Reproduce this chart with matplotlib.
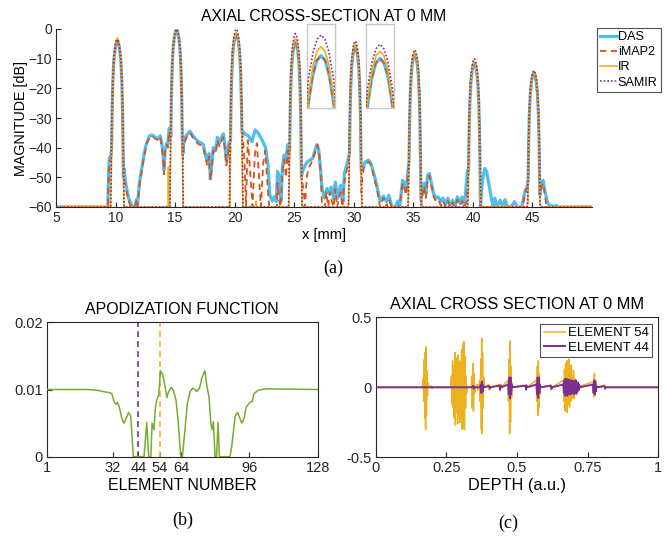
import matplotlib
matplotlib.use("Agg")
import matplotlib.pyplot as plt

plt.rcParams['font.family'] = ['Liberation Sans', 'DejaVu Sans']

# ---------------- (a) axial cross-section data ----------------
das_x = [5, 9.35, 9.42, 9.48, 9.6, 9.67, 9.71, 9.77, 9.85, 9.95, 10.05, 10.15, 10.25, 10.35, 10.45, 10.53, 10.59, 10.63,
         10.66, 10.7, 10.85, 11.1, 11.4, 11.6, 11.75, 11.85, 12.0, 12.2, 12.4, 12.6, 12.85, 13.1, 13.35, 13.6, 13.75,
         13.9, 14.0, 14.07, 14.15, 14.3, 14.4, 14.5, 14.6, 14.64, 14.68, 14.74, 14.82, 14.92, 15.02, 15.12, 15.22,
         15.32, 15.42, 15.5, 15.56, 15.6, 15.65, 15.7, 15.9, 16.25, 16.55, 16.95, 17.35, 17.55, 17.7, 17.85, 17.96,
         18.1, 18.2, 18.4, 18.55, 18.72, 18.85, 19.05, 19.2, 19.3, 19.45, 19.55, 19.65, 19.69, 19.75, 19.83, 19.93,
         20.03, 20.13, 20.23, 20.33, 20.43, 20.51, 20.57, 20.61, 20.7, 20.9, 21.15, 21.45, 21.72, 22.0, 22.3, 22.6,
         22.8, 22.95, 23.15, 23.35, 23.5, 23.6, 23.75, 23.9, 24.0, 24.15, 24.3, 24.45, 24.55, 24.62, 24.66, 24.72,
         24.8, 24.9, 25.0, 25.1, 25.2, 25.3, 25.4, 25.48, 25.54, 25.58, 25.6, 25.7, 25.85, 26.05, 26.3, 26.55, 26.75,
         26.9, 27.05, 27.2, 27.35, 27.55, 27.75, 27.95, 28.1, 28.3, 28.45, 28.65, 28.9, 29.1, 29.2, 29.45, 29.6,
         29.64, 29.68, 29.74, 29.82, 29.92, 30.02, 30.12, 30.22, 30.32, 30.42, 30.5, 30.56, 30.6, 30.63, 30.8, 31.0,
         31.25, 31.45, 31.7, 31.95, 32.2, 32.5, 32.75, 32.95, 33.2, 33.5, 33.7, 33.85, 34.1, 34.2, 34.4, 34.55,
         34.64, 34.68, 34.74, 34.82, 34.92, 35.02, 35.12, 35.22, 35.32, 35.42, 35.5, 35.56, 35.6, 35.64, 35.8, 35.9,
         36.05, 36.2, 36.35, 36.5, 36.7, 36.9, 37.1, 37.3, 37.5, 37.7, 37.9, 38.1, 38.3, 38.5, 38.7, 38.9, 39.1,
         39.3, 39.4, 39.55, 39.64, 39.68, 39.74, 39.82, 39.92, 40.02, 40.12, 40.22, 40.32, 40.42, 40.5, 40.56, 40.6,
         40.63, 40.8, 41.0, 41.15, 41.35, 41.55, 41.7, 41.85, 42.0, 42.3, 42.5, 42.7, 42.9, 43.2, 43.5, 43.7, 44.1,
         44.27, 44.4, 44.55, 44.64, 44.68, 44.74, 44.82, 44.92, 45.02, 45.12, 45.22, 45.32, 45.42, 45.5, 45.56, 45.6,
         45.63, 45.75, 45.9, 46.0, 46.25, 46.45, 46.65, 46.85, 47.0, 47.1, 50]
das_y = [-60, -60, -48, -43.5, -43, -40, -28, -18, -11, -7, -4.7, -4, -4.7, -7, -11, -18, -28, -40,
         -50, -47, -52, -57, -60, -60, -57.5, -59, -52, -47, -42, -38.5, -36, -35.8, -36.5, -37, -36,
         -39, -43, -47.5, -41, -38.5, -39, -33.5, -34.5, -36.3, -24.3, -14.3, -7.3, -3.3, -1.0, -0.3, -1.0,
         -3.3, -7.3, -14.3, -24.3, -36.3, -42, -39, -36, -34.5, -36.3, -38, -38.8, -42.5, -44.5, -42, -50.5,
         -45, -40, -41, -36.5, -38.5, -37, -35.3, -40, -44.5, -40, -38, -37.8, -25.8, -15.8, -8.8, -4.8,
         -2.5, -1.8, -2.5, -4.8, -8.8, -15.8, -25.8, -34.6, -34.6, -35.5, -36, -38, -34, -35.2, -37.4, -40,
         -46, -56, -58, -56.5, -58.2, -48, -50, -58, -47, -42.5, -44.7, -39, -42, -40.5, -28.5, -18.5,
         -11.5, -7.5, -5.2, -4.5, -5.2, -7.5, -11.5, -18.5, -28.5, -40.5, -50, -48, -46.5, -45, -44.2, -43.6, -40.8,
         -39, -40.5, -47, -54, -57, -53.8, -55.5, -53.3, -57, -51.6, -57, -52.7, -58.2, -48.8, -45.3, -42.5,
         -42, -30, -20, -13, -9, -6.7, -6, -6.7, -9, -13, -20, -30, -42, -48, -46.4, -44.7,
         -44.2, -45.3, -49, -53, -58, -56.3, -58.2, -56, -60, -60, -58, -60, -51, -52, -53.8, -48,
         -44.5, -32.5, -22.5, -15.5, -11.5, -9.2, -8.5, -9.2, -11.5, -15.5, -22.5, -32.5, -44.5, -57.5, -54, -52,
         -55.5, -49.3, -48.7, -51.6, -55.5, -57, -56.6, -58.2, -57, -59.3, -57, -60, -57.7, -60, -56.6, -58.5, -56.6,
         -60, -54.4, -47.6, -47.5, -35.5, -25.5, -18.5, -14.5, -12.2, -11.5, -12.2, -14.5, -18.5, -25.5, -35.5, -47.5,
         -60, -51, -47, -48, -52.6, -57, -60, -57, -60, -57.7, -60, -57.5, -60, -60, -58.2, -60, -60,
         -56.6, -54.4, -53.3, -50.8, -38.8, -28.8, -21.8, -17.8, -15.5, -14.8, -15.5, -17.8, -21.8, -28.8, -38.8, -50.8,
         -56, -52, -51, -53.8, -58.2, -60, -59.5, -60, -59.5, -60, -60]

imap_x = [5, 9.35, 9.42, 9.5, 9.6, 9.67, 9.71, 9.77, 9.85, 9.95, 10.05, 10.15, 10.25, 10.35, 10.45, 10.53, 10.59, 10.63,
          10.67, 10.85, 11.1, 11.3, 11.65, 11.75, 11.85, 12.0, 12.2, 12.4, 12.6, 12.85, 13.1, 13.35, 13.6, 13.75,
          13.9, 14.0, 14.07, 14.15, 14.3, 14.4, 14.5, 14.6, 14.64, 14.68, 14.74, 14.82, 14.92, 15.02, 15.12, 15.22,
          15.32, 15.42, 15.5, 15.56, 15.6, 15.65, 15.72, 15.9, 16.25, 16.55, 16.95, 17.35, 17.55, 17.7, 17.85, 17.96,
          18.1, 18.2, 18.4, 18.55, 18.72, 18.85, 19.05, 19.2, 19.3, 19.45, 19.55, 19.6, 19.65, 19.69, 19.75, 19.83,
          19.93, 20.03, 20.13, 20.23, 20.33, 20.43, 20.51, 20.57, 20.61, 20.65, 20.8, 20.95, 21.1, 21.3, 21.5, 21.7,
          21.86, 22.05, 22.2, 22.4, 22.56, 22.75, 22.9, 23.3, 23.55, 23.6, 23.75, 23.85, 24.0, 24.15, 24.3, 24.45,
          24.55, 24.62, 24.66, 24.72, 24.8, 24.9, 25.0, 25.1, 25.2, 25.3, 25.4, 25.48, 25.54, 25.58, 25.6, 25.78,
          25.9, 26.05, 26.2, 26.45, 26.65, 26.8, 26.96, 27.1, 27.25, 27.35, 27.55, 27.7, 27.85, 28.0, 28.15, 28.3,
          28.45, 28.6, 28.9, 29.05, 29.2, 29.4, 29.6, 29.64, 29.68, 29.74, 29.82, 29.92, 30.02, 30.12, 30.22, 30.32,
          30.42, 30.5, 30.56, 30.6, 30.63, 30.7, 30.85, 31.0, 31.25, 31.45, 31.7, 31.95, 32.2, 32.5, 32.75, 32.95,
          33.2, 33.85, 34.1, 34.2, 34.4, 34.55, 34.64, 34.68, 34.74, 34.82, 34.92, 35.02, 35.12, 35.22, 35.32, 35.42,
          35.5, 35.56, 35.6, 35.64, 35.8, 35.9, 36.05, 36.2, 36.35, 36.5, 36.7, 36.9, 37.1, 37.3, 37.5, 37.7, 37.9,
          38.1, 38.3, 38.5, 38.7, 38.9, 39.1, 39.3, 39.45, 39.58, 39.64, 39.68, 39.74, 39.82, 39.92, 40.02, 40.12,
          40.22, 40.32, 40.42, 40.5, 40.56, 40.6, 40.63, 44.2, 44.3, 44.45, 44.55, 44.64, 44.68, 44.74, 44.82, 44.92,
          45.02, 45.12, 45.22, 45.32, 45.42, 45.5, 45.56, 45.6, 45.63, 45.75, 45.9, 46.0, 46.2, 50]
imap_y = [-60, -60, -50, -44.5, -44, -41, -28, -18, -11, -7, -4.8, -4.1, -4.8, -7, -11, -18, -28, -40,
          -50, -53, -58, -60, -60, -58, -60, -53, -48, -43, -39, -36.5, -36.3, -37, -37.5, -36.5,
          -40, -44, -49, -42, -39, -40, -34.5, -35.5, -36.3, -24.3, -14.3, -7.3, -3.3, -1.0, -0.3, -1.0,
          -3.3, -7.3, -14.3, -24.3, -36.3, -44, -40, -37, -35, -37, -38.8, -39.5, -43.5, -46, -43, -51,
          -46, -41, -42, -37.5, -39.5, -38, -36.5, -41, -46, -42, -39, -55, -37.8, -25.8, -15.8, -8.8,
          -4.8, -2.5, -1.8, -2.5, -4.8, -8.8, -15.8, -25.8, -34.6, -35, -42, -60, -37.5, -48, -60, -42,
          -38.5, -50, -60, -45, -41, -52, -60, -60, -60, -52, -58, -60, -49, -44, -50, -41,
          -46, -40.5, -28.5, -18.5, -11.5, -7.5, -5.2, -4.5, -5.2, -7.5, -11.5, -18.5, -28.5, -40.5, -50, -54,
          -60, -50, -47, -45, -43, -41, -39, -42, -52, -60, -60, -55, -60, -55, -58, -60,
          -54, -60, -55, -60, -52, -47.8, -44, -42, -30, -20, -13, -9, -6.7, -6, -6.7, -9,
          -13, -20, -30, -42, -55, -50, -47, -45.5, -44.8, -46, -50, -54, -60, -57, -60, -57.5,
          -60, -60, -52, -53, -56, -49, -45, -32.5, -22.5, -15.5, -11.5, -9.2, -8.5, -9.2, -11.5, -15.5,
          -22.5, -32.5, -44.5, -60, -55, -53, -57, -50, -49.5, -52.5, -56.5, -58, -57.5, -59.5, -58, -60, -58,
          -60, -58.5, -60, -57.5, -59.5, -58, -60, -58, -52, -48, -35.5, -25.5, -18.5, -14.5, -12.2, -11.5,
          -12.2, -14.5, -18.5, -25.5, -35.5, -47.5, -60, -60, -57, -54, -55, -51, -38.8, -28.8, -21.8, -17.8,
          -15.5, -14.8, -15.5, -17.8, -21.8, -28.8, -38.8, -50.8, -57, -53, -52, -55, -60, -60]

ir_x = [5, 9.6, 9.65, 9.7, 9.77, 9.85, 9.97, 10.06, 10.15, 10.24, 10.33, 10.45, 10.53, 10.6, 10.65, 10.7,
        14.42, 14.44, 14.46,
        14.57, 14.62, 14.67, 14.74, 14.82, 14.94, 15.03, 15.12, 15.21, 15.3, 15.42, 15.5, 15.57, 15.62, 15.67,
        19.58, 19.6, 19.62,
        19.63, 19.68, 19.75, 19.83, 19.95, 20.04, 20.13, 20.22, 20.31, 20.43, 20.51, 20.58, 20.63, 20.68,
        21.78, 21.8, 21.82,
        24.55, 24.6, 24.65, 24.72, 24.8, 24.92, 25.01, 25.1, 25.19, 25.28, 25.4, 25.48, 25.55, 25.6, 25.65,
        29.57, 29.62, 29.67, 29.74, 29.82, 29.94, 30.03, 30.12, 30.21, 30.3, 30.42, 30.5, 30.57, 30.62, 30.67,
        34.57, 34.62, 34.67, 34.74, 34.82, 34.94, 35.03, 35.12, 35.21, 35.3, 35.42, 35.5, 35.57, 35.62, 35.67,
        39.57, 39.62, 39.67, 39.74, 39.82, 39.94, 40.03, 40.12, 40.21, 40.3, 40.42, 40.5, 40.57, 40.62, 40.67,
        44.57, 44.62, 44.67, 44.74, 44.82, 44.94, 45.03, 45.12, 45.21, 45.3, 45.42, 45.5, 45.57, 45.62, 45.67,
        50]
ir_y = [-60, -60, -47, -30, -17, -10, -5.5, -3.6, -3, -3.6, -5.5, -10, -17, -30, -47, -60,
        -60, -46.5, -60,
        -60, -44, -27, -14, -7, -2.5, -0.6, 0, -0.6, -2.5, -7, -14, -27, -44, -60,
        -60, -50, -60,
        -45.2, -28.2, -15.2, -8.2, -3.7, -1.8, -1.2, -1.8, -3.7, -8.2, -15.2, -28.2, -45.2, -60,
        -60, -58, -60,
        -60, -47.2, -30.2, -17.2, -10.2, -5.7, -3.8, -3.2, -3.8, -5.7, -10.2, -17.2, -30.2, -47.2, -60,
        -60, -49, -32, -19, -12, -7.5, -5.6, -5, -5.6, -7.5, -12, -19, -32, -49, -60,
        -60, -52, -35, -22, -15, -10.5, -8.6, -8, -8.6, -10.5, -15, -22, -35, -52, -60,
        -60, -55, -38, -25, -18, -13.5, -11.6, -11, -11.6, -13.5, -18, -25, -38, -55, -60,
        -60, -58.5, -41.5, -28.5, -21.5, -17, -15.1, -14.5, -15.1, -17, -21.5, -28.5, -41.5, -58.5, -60,
        -60]

samir_x = [5, 9.58, 9.63, 9.69, 9.76, 9.85, 9.97, 10.06, 10.15, 10.24, 10.33, 10.45, 10.54, 10.61, 10.67, 10.72,
           14.55, 14.6, 14.66, 14.73, 14.82, 14.94, 15.03, 15.12, 15.21, 15.3, 15.42, 15.51, 15.58, 15.64, 15.69,
           19.56, 19.61, 19.67, 19.74, 19.83, 19.95, 20.04, 20.13, 20.22, 20.31, 20.43, 20.52, 20.59, 20.65, 20.7,
           24.53, 24.58, 24.64, 24.71, 24.8, 24.92, 25.01, 25.1, 25.19, 25.28, 25.4, 25.49, 25.56, 25.62, 25.67,
           29.55, 29.6, 29.66, 29.73, 29.82, 29.94, 30.03, 30.12, 30.21, 30.3, 30.42, 30.51, 30.58, 30.64, 30.69,
           34.55, 34.6, 34.66, 34.73, 34.82, 34.94, 35.03, 35.12, 35.21, 35.3, 35.42, 35.51, 35.58, 35.64, 35.69,
           39.55, 39.6, 39.66, 39.73, 39.82, 39.94, 40.03, 40.12, 40.21, 40.3, 40.42, 40.51, 40.58, 40.64, 40.69,
           44.55, 44.6, 44.66, 44.73, 44.82, 44.94, 45.03, 45.12, 45.21, 45.3, 45.42, 45.51, 45.58, 45.64, 45.69,
           50]
samir_y = [-60, -60, -47.5, -30.5, -17.5, -10, -5.8, -4.1, -3.5, -4.1, -5.8, -10, -17.5, -30.5, -47.5, -60,
           -60, -44, -27, -14, -6.5, -2.3, -0.6, 0, -0.6, -2.3, -6.5, -14, -27, -44, -60,
           -60, -44, -27, -14, -6.5, -2.3, -0.6, 0, -0.6, -2.3, -6.5, -14, -27, -44, -60,
           -60, -45.5, -28.5, -15.5, -8, -3.8, -2.1, -1.5, -2.1, -3.8, -8, -15.5, -28.5, -45.5, -60,
           -60, -48, -31, -18, -10.5, -6.3, -4.6, -4, -4.6, -6.3, -10.5, -18, -31, -48, -60,
           -60, -51, -34, -21, -13.5, -9.3, -7.6, -7, -7.6, -9.3, -13.5, -21, -34, -51, -60,
           -60, -54, -37, -24, -16.5, -12.3, -10.6, -10, -10.6, -12.3, -16.5, -24, -37, -54, -60,
           -60, -58, -41, -28, -20.5, -16.3, -14.6, -14, -14.6, -16.3, -20.5, -28, -41, -58, -60,
           -60]

# ---------------- (b) apodization data ----------------
apod_elem = [1, 20, 24.4, 30.7, 31.5, 32.6, 33.5, 34.1, 35.1, 36.2, 37.2, 38.2, 39.4, 40.4, 41.6, 44.4, 46.6,
             47.9, 48.8, 49.8, 50.4, 51.3, 51.9, 52.6, 53.5, 54.3, 55.4, 56.5, 57.3, 58.2, 59.3, 60.4, 61.6,
             62.7, 63.8, 64.6, 65.8, 66.9, 68.2, 69.4, 70.5, 71.3, 72.6, 73.8, 75.1, 76.0, 77.1, 77.9, 78.5,
             79.1, 79.9, 80.6, 81.3, 81.9, 86.9, 87.7, 89.3, 90.4, 91.6, 92.4, 93.5, 94.4, 95.5, 96.3, 97.3,
             98.2, 100.2, 104, 128]
apod_val = [0.01, 0.01, 0.0099, 0.0095, 0.0094, 0.0082, 0.0078, 0.0081, 0.0073, 0.0057, 0.005, 0.0057, 0.0066,
            0.006, 0, 0, 0, 0.0051, 0, 0, 0.005, 0.004, 0.0072, 0.0085, 0.0092, 0.0128, 0.0122, 0.0104, 0.0088,
            0.0097, 0.0103, 0.0099, 0.0084, 0.005, 0, 0, 0.004, 0.0079, 0.0097, 0.0102, 0.01, 0.0097, 0.0102,
            0.0118, 0.0128, 0.0107, 0.0088, 0.005, 0.004, 0.0052, 0, 0, 0.0051, 0, 0, 0.0015, 0.006, 0.0066,
            0.0057, 0.005, 0.0057, 0.0073, 0.0078, 0.0081, 0.0082, 0.0094, 0.0099, 0.0101, 0.01]
apod_ticks = [1, 32, 44, 54, 64, 96, 128]
marked_elems = [44, 54]

# ---------------- (c) RF traces ----------------
e54_depth = [0.0, 0.165, 0.168, 0.170, 0.172, 0.174, 0.175, 0.1765, 0.178, 0.1795, 0.181, 0.183, 0.185, 0.187,
             0.197, 0.199, 0.2, 0.265, 0.268, 0.270, 0.272, 0.274, 0.276, 0.278, 0.280, 0.282, 0.284, 0.286,
             0.288, 0.290, 0.292, 0.294, 0.296, 0.298, 0.300, 0.302, 0.304, 0.306, 0.308, 0.310, 0.312, 0.314,
             0.316, 0.318, 0.320, 0.322, 0.324, 0.338, 0.340, 0.342, 0.344, 0.346, 0.348, 0.350, 0.352, 0.360,
             0.362, 0.364, 0.368, 0.370, 0.372, 0.374, 0.375, 0.3765, 0.378, 0.380, 0.382, 0.384, 0.400, 0.402,
             0.404, 0.438, 0.440, 0.442, 0.444, 0.468, 0.470, 0.472, 0.474, 0.4755, 0.477, 0.479, 0.481, 0.483,
             0.485, 0.530, 0.532, 0.534, 0.536, 0.568, 0.570, 0.572, 0.574, 0.5755, 0.577, 0.579, 0.581, 0.583,
             0.620, 0.622, 0.624, 0.664, 0.666, 0.668, 0.670, 0.672, 0.674, 0.676, 0.678, 0.680, 0.682, 0.684,
             0.686, 0.688, 0.690, 0.692, 0.694, 0.696, 0.698, 0.700, 0.702, 0.704, 0.706, 0.708, 0.710, 0.712,
             0.714, 0.770, 0.772, 0.774, 0.776, 0.778, 0.780, 0.782, 0.810, 0.812, 0.814, 1.0]
e54_amp = [0, 0, 0.06, -0.1, 0.2, -0.22, 0.25, -0.30, 0.29, -0.2, 0.12, -0.06, 0.03, 0,
           0.01, -0.01, 0, 0, 0.08, -0.12, 0.19, -0.14, 0.15, -0.22, 0.25, -0.27, 0.2, -0.18,
           0.21, -0.26, 0.23, -0.2, 0.19, -0.25, 0.18, -0.22, 0.27, -0.3, 0.31, -0.29, 0.33, -0.3,
           0.22, -0.15, 0.08, -0.04, 0, 0, 0.08, -0.15, 0.17, -0.17, 0.1, -0.04, 0, 0.02,
           -0.02, 0, 0.05, -0.1, 0.2, -0.3, 0.35, -0.33, 0.25, -0.15, 0.07, 0, 0.02, -0.02,
           0, 0.02, -0.025, 0.02, 0, 0.05, -0.1, 0.2, -0.33, 0.33, -0.25, 0.15, -0.07, 0.03,
           0, 0.015, -0.02, 0.015, 0, 0.05, -0.1, 0.15, -0.2, 0.19, -0.15, 0.1, -0.05, 0,
           0.015, -0.015, 0, 0.05, -0.1, 0.13, -0.17, 0.17, -0.15, 0.19, -0.18, 0.15, -0.12, 0.2,
           -0.14, 0.12, -0.1, 0.16, -0.08, 0.08, -0.06, 0.12, -0.08, 0.06, -0.04, 0.04, -0.05, 0.03,
           0, 0.04, -0.07, 0.1, -0.06, 0.05, -0.02, 0, 0.015, -0.015, 0, 0]
e44_depth = [0.0, 0.340, 0.345, 0.347, 0.350, 0.370, 0.372, 0.374, 0.376, 0.378, 0.380, 0.382, 0.402, 0.404,
             0.406, 0.438, 0.440, 0.442, 0.444, 0.469, 0.471, 0.473, 0.475, 0.477, 0.479, 0.481, 0.483, 0.530,
             0.532, 0.534, 0.536, 0.569, 0.571, 0.573, 0.575, 0.577, 0.579, 0.581, 0.583, 0.620, 0.622, 0.624,
             0.664, 0.666, 0.668, 0.670, 0.672, 0.674, 0.676, 0.678, 0.680, 0.682, 0.684, 0.686, 0.688, 0.690,
             0.692, 0.694, 0.696, 0.698, 0.700, 0.702, 0.704, 0.706, 0.708, 0.710, 0.712, 0.714, 0.716, 0.718,
             0.720, 0.722, 0.769, 0.771, 0.773, 0.775, 0.777, 0.779, 0.781, 0.783, 0.810, 0.812, 0.814, 1.0]
e44_amp = [0, 0, 0.01, -0.01, 0, 0, 0.02, -0.04, 0.04, -0.03, 0.015, 0, 0.008, -0.008,
           0, 0.012, -0.015, 0.012, 0, 0.02, -0.05, 0.07, -0.08, 0.07, -0.05, 0.02, 0, 0.012,
           -0.015, 0.012, 0, 0.02, -0.05, 0.07, -0.075, 0.07, -0.04, 0.02, 0, 0.012, -0.012, 0,
           0.02, -0.04, 0.05, -0.06, 0.06, -0.05, 0.06, -0.06, 0.05, -0.04, 0.055, -0.05, 0.04, -0.05,
           0.05, -0.04, 0.045, -0.04, 0.045, -0.05, 0.04, -0.04, 0.05, -0.045, 0.035, -0.03, 0.035, -0.02,
           0.02, 0, 0.02, -0.04, 0.05, -0.05, 0.04, -0.03, 0.01, 0, 0.008, -0.008, 0, 0]

# ---------------- styling ----------------
C_DAS = '#4DBEEE'
C_IMAP = '#D95319'
C_IR = '#EDB120'
C_SAMIR = '#7E2F8E'
C_APOD = '#77AC30'
AXC = '#262626'
W, H = 667, 542
SERIF = ['Liberation Serif', 'DejaVu Serif']

fig = plt.figure(figsize=(W / 100, H / 100), dpi=100)


def fbox(l, t, r, b):
    return [l / W, 1 - b / H, (r - l) / W, (b - t) / H]


def style_axes(ax, box=True, labelsize=9.5):
    for s in ['left', 'bottom', 'top', 'right']:
        ax.spines[s].set_color(AXC)
        ax.spines[s].set_linewidth(0.8)
    if not box:
        ax.spines['top'].set_visible(False)
        ax.spines['right'].set_visible(False)
    ax.tick_params(direction='in', length=3.5, width=0.8, colors=AXC, labelsize=labelsize, pad=3)


def draw_series(ax):
    ax.plot(das_x, das_y, color=C_DAS, lw=2.3, label='DAS', zorder=2)
    ax.plot(imap_x, imap_y, color=C_IMAP, lw=1.3, ls=(0, (3.5, 2.5)), label='iMAP2', zorder=3)
    ax.plot(ir_x, ir_y, color=C_IR, lw=1.2, label='IR', zorder=4)
    ax.plot(samir_x, samir_y, color=C_SAMIR, lw=1.2, ls=(0, (1, 1.2)), label='SAMIR', zorder=5)


# (a)
ax1 = fig.add_axes(fbox(56, 29, 592, 207))
draw_series(ax1)
ax1.set_xlim(5, 50)
ax1.set_ylim(-60, 0)
ax1.set_xticks([5, 10, 15, 20, 25, 30, 35, 40, 45])
ax1.set_yticks([-60, -50, -40, -30, -20, -10, 0])
style_axes(ax1, box=False, labelsize=10)
ax1.set_title('AXIAL CROSS-SECTION AT 0 MM', fontsize=11.3, pad=6)
ax1.set_xlabel('x [mm]', fontsize=10.5, labelpad=2)
ax1.set_ylabel('MAGNITUDE [dB]', fontsize=10.3, labelpad=0)
leg = ax1.legend(loc='upper left', bbox_to_anchor=(597 / W, 1 - 28 / H), bbox_transform=fig.transFigure,
                 fontsize=9.1, frameon=True, fancybox=False, handlelength=1.3, handletextpad=0.1,
                 borderpad=0.25, labelspacing=0.25, borderaxespad=0)
leg.get_frame().set_edgecolor(AXC)
leg.get_frame().set_linewidth(0.8)

# insets
for (l, r, cx, ylo, yhi) in [(307, 335, 25.1, -12.1, 0.1), (366, 394, 30.12, -13.1, -1.1)]:
    axi = fig.add_axes(fbox(l, 24, r, 108))
    draw_series(axi)
    axi.set_xlim(cx - 0.33, cx + 0.33)
    axi.set_ylim(ylo, yhi)
    axi.set_xticks([])
    axi.set_yticks([])
    for s in axi.spines.values():
        s.set_color('#C8C8C8')
        s.set_linewidth(1.0)
    axi.patch.set_facecolor('white')

fig.text(333 / W, 1 - 268 / H, '(a)', ha='center', va='center', family=SERIF, fontsize=13)

# (b)
ax2 = fig.add_axes(fbox(46.7, 322.3, 317.7, 456.7))
ax2.plot(apod_elem, apod_val, color=C_APOD, lw=1.1, zorder=3)
ax2.plot([marked_elems[0]] * 2, [0, 0.02], color=C_SAMIR, lw=1.2, ls=(0, (3.5, 2.5)), zorder=2)
ax2.plot([marked_elems[1]] * 2, [0, 0.02], color=C_IR, lw=1.2, ls=(0, (3.5, 2.5)), zorder=2)
ax2.set_xlim(1, 128)
ax2.set_ylim(0, 0.02)
ax2.set_xticks(apod_ticks)
ax2.set_yticks([0, 0.01, 0.02])
ax2.set_yticklabels(['0', '0.01', '0.02'])
style_axes(ax2, labelsize=10.5)
ax2.set_title('APODIZATION FUNCTION', fontsize=11.5, pad=6)
ax2.set_xlabel('ELEMENT NUMBER', fontsize=11.5, labelpad=2)
fig.text(183 / W, 1 - 520 / H, '(b)', ha='center', va='center', family=SERIF, fontsize=13)

# (c)
ax3 = fig.add_axes(fbox(375.7, 317.3, 658.3, 457.3))
ax3.plot(e54_depth, e54_amp, color=C_IR, lw=1.1, label='ELEMENT 54', zorder=2)
ax3.plot(e44_depth, e44_amp, color=C_SAMIR, lw=1.4, label='ELEMENT 44', zorder=3)
ax3.set_xlim(0, 1)
ax3.set_ylim(-0.5, 0.5)
ax3.set_xticks([0, 0.25, 0.5, 0.75, 1])
ax3.set_xticklabels(['0', '0.25', '0.5', '0.75', '1'])
ax3.set_yticks([-0.5, 0, 0.5])
ax3.set_yticklabels(['-0.5', '0', '0.5'])
style_axes(ax3, labelsize=10.5)
ax3.set_title('AXIAL CROSS SECTION AT 0 MM', fontsize=11.8, pad=6)
ax3.set_xlabel('DEPTH (a.u.)', fontsize=11.7, labelpad=2)
leg3 = ax3.legend(loc='upper right', fontsize=9.5, frameon=True, fancybox=False, handlelength=1.6,
                  handletextpad=0.2, borderpad=0.25, labelspacing=0.15, borderaxespad=0.5)
leg3.get_frame().set_edgecolor(AXC)
leg3.get_frame().set_linewidth(0.8)
fig.text(508 / W, 1 - 523 / H, '(c)', ha='center', va='center', family=SERIF, fontsize=13)

fig.savefig('out.png', dpi=100)
